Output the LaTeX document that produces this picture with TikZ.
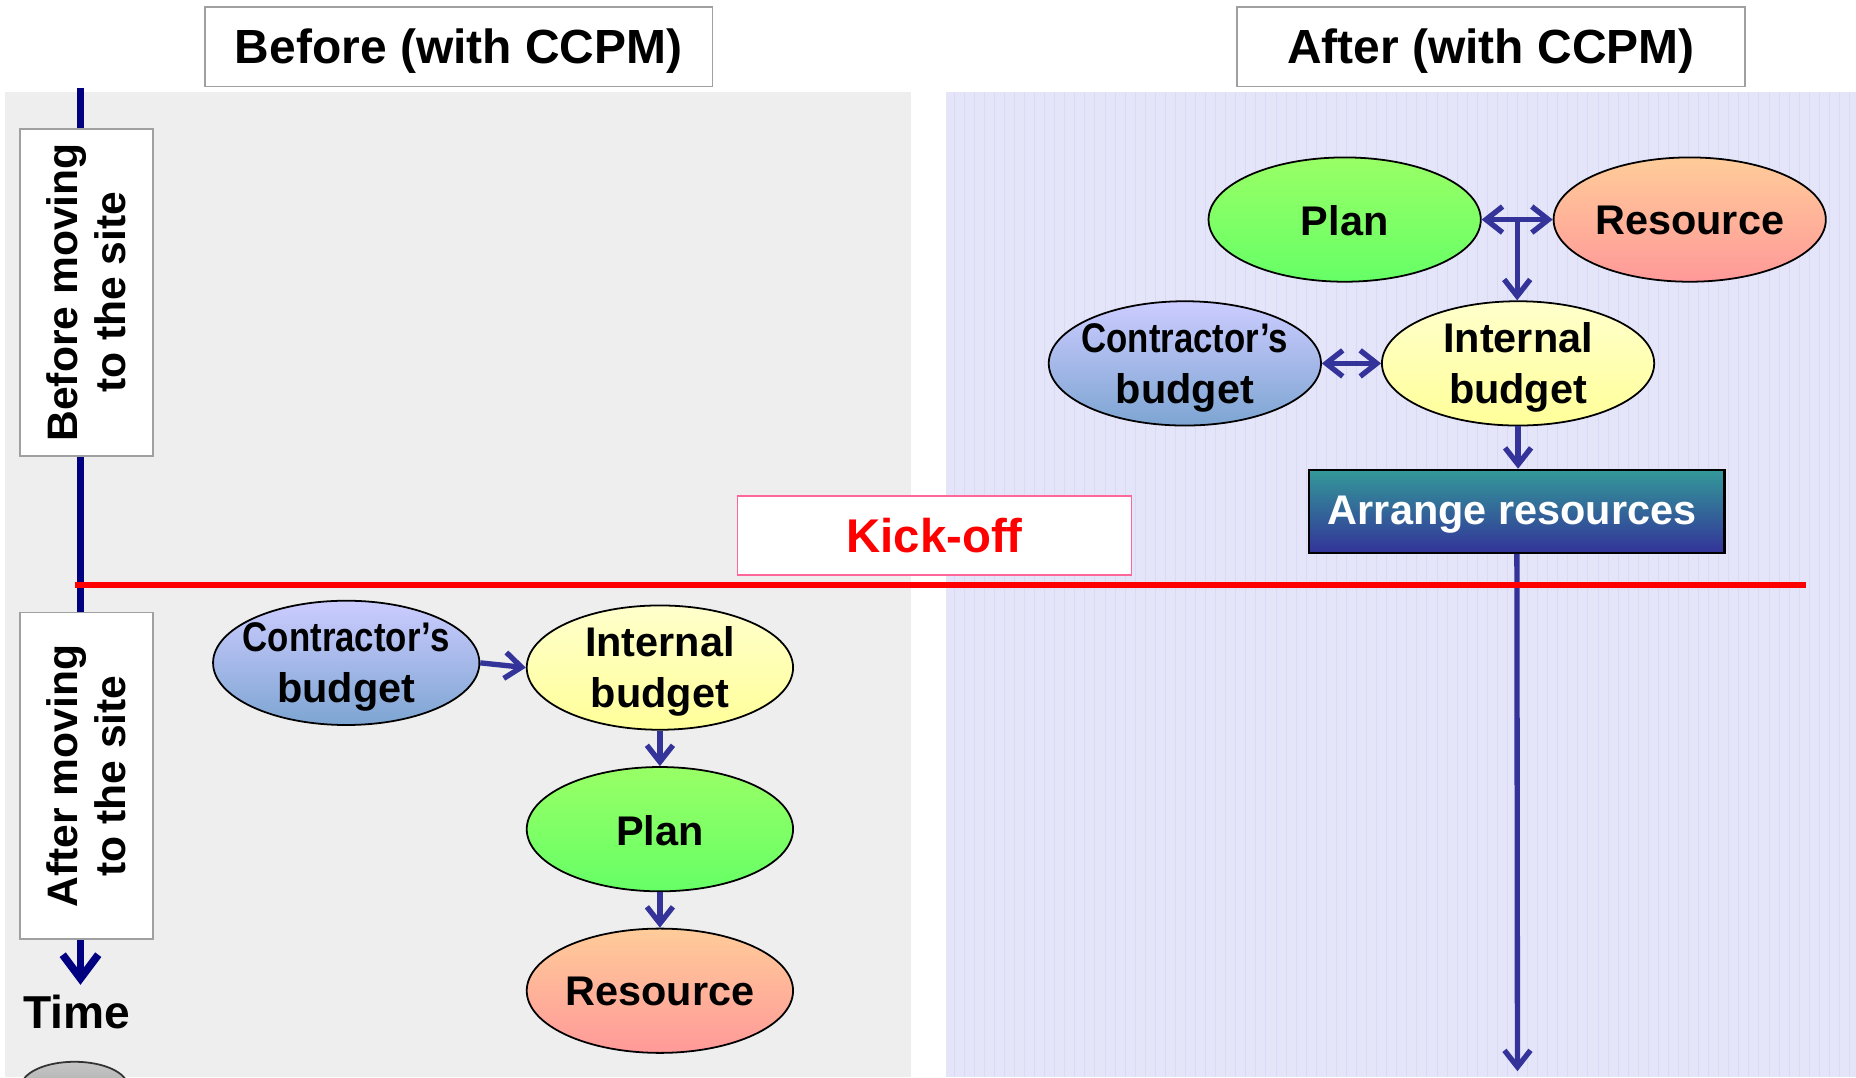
\documentclass[tikz,border=0pt]{standalone}
\usepackage{fontspec}
\usepackage{graphicx}
\setmainfont{Liberation Sans}
\usetikzlibrary{shapes.geometric,arrows.meta,calc}
\definecolor{arrowc}{HTML}{333399}
\definecolor{axisc}{HTML}{000080}
\definecolor{greypanel}{HTML}{EEEEEE}
\definecolor{lavpanel}{HTML}{E5E5FA}
\definecolor{lavline}{HTML}{DADAF6}
\definecolor{boxgray}{HTML}{A0A0A0}
\definecolor{kickpink}{HTML}{FF6699}
\definecolor{cbtop}{HTML}{CCCCFF}
\definecolor{cbbot}{HTML}{7DA5D2}
\definecolor{ibtop}{HTML}{FFFFCC}
\definecolor{ibbot}{HTML}{FFFF99}
\definecolor{pltop}{HTML}{99FF66}
\definecolor{plbot}{HTML}{66FF66}
\definecolor{rstop}{HTML}{FFCC99}
\definecolor{rsbot}{HTML}{FF9999}
\definecolor{artop}{HTML}{339999}
\definecolor{arbot}{HTML}{333399}
\tikzset{
  ell/.style={ellipse, draw=black, line width=1.5pt, minimum width=225pt, minimum height=105pt, inner sep=0pt},
  ellR/.style={ell, minimum width=230pt},
  etext/.style={align=center, inner sep=0pt, yshift=-3.5pt, font=\fontsize{35}{43}\selectfont\bfseries},
  etextone/.style={inner sep=0pt, yshift=-1pt, font=\fontsize{35}{43}\selectfont\bfseries},
  titlebox/.style={draw=boxgray, line width=1.5pt, fill=white, minimum width=429pt, minimum height=67pt, inner sep=0pt},
  ttext/.style={inner sep=0pt, yshift=-4pt, font=\fontsize{40.5}{48}\selectfont\bfseries},
  vbox/.style={draw=boxgray, line width=1.5pt, fill=white, minimum width=112pt, minimum height=276pt, inner sep=0pt},
  vtext/.style={rotate=90, align=center, inner sep=0pt, font=\fontsize{36}{41}\selectfont\bfseries},
  barb/.tip={Straight Barb[length=14pt,width=22pt,line width=4.5pt]},
  flow/.style={draw=arrowc, line width=4.5pt, -barb},
  flowtwo/.style={draw=arrowc, line width=4.5pt, barb-barb},
  axisline/.style={draw=axisc, line width=6.5pt, -{Straight Barb[length=20pt,width=30pt,line width=6.5pt]}},
}
\begin{document}
\begin{tikzpicture}[x=1pt,y=-1pt]
\useasboundingbox (0,0) rectangle (1568,910);
% panels
\fill[greypanel] (4,78) rectangle (770,910);
\fill[lavpanel] (799,78) rectangle (1568,910);
\foreach \x in {806,814.5,...,1566} \draw[lavline, line width=0.8pt] (\x,78) -- (\x,910);
% bottom-left dome
\begin{scope}
\clip (0,0) rectangle (1568,910);
\draw[black!80, line width=1.5pt, top color=gray!45, bottom color=gray!75] (63,918) ellipse [x radius=45pt, y radius=21pt];
\end{scope}
% time axis
\coordinate (axtop) at (68,74);
\coordinate (axbot) at (68,832);
\draw[axisline] (axtop) -- (axbot);
% side labels
\node[vbox] (vb1) at (73,247) {};
\node[vtext] (vb1t) at (vb1) {Before moving\\to the site};
\node[vbox] (vb2) at (73,655.5) {};
\node[vtext] (vb2t) at (vb2) {After moving\\to the site};
\node[font=\fontsize{39}{46}\selectfont\bfseries, inner sep=0pt] (time) at (65,855) {Time};
% titles
\node[titlebox] (tbefore) at (387.5,39.5) {};
\node[ttext] (tbeforet) at (tbefore) {Before (with CCPM)};
\node[titlebox] (tafter) at (1259.5,39.5) {};
\node[ttext] (taftert) at (tafter) {After (with CCPM)};
% Right diagram
\node[ellR, top color=pltop, bottom color=plbot] (pl2) at (1136,185.5) {};
\node[etextone] (pl2t) at (pl2) {Plan};
\node[ellR, top color=rstop, bottom color=rsbot] (rs2) at (1427.5,185.5) {};
\node[etextone] (rs2t) at (rs2) {Resource};
\node[ellR, top color=cbtop, bottom color=cbbot] (cb2) at (1001,307) {};
\node[etext] (cb2t) at (cb2) {\scalebox{0.84}[1]{Contractor’s}\\budget};
\node[ellR, top color=ibtop, bottom color=ibbot] (ib2) at (1282.5,307) {};
\node[etext] (ib2t) at (ib2) {Internal\\budget};
\node[draw=black, line width=2pt, top color=artop, bottom color=arbot, minimum width=351pt, minimum height=70pt, inner sep=0pt] (ar) at (1281.5,432) {};
\node[inner sep=0pt, text=white, yshift=-3pt, font=\fontsize{35}{42}\selectfont\bfseries] (art) at ([xshift=-4pt]ar.center) {Arrange resources};
\coordinate (tj) at ($(pl2.east)!0.5!(rs2.west)$);
\coordinate (arend) at (1282,905);
\draw[flowtwo] (pl2.east) -- (rs2.west);
\draw[flow] (tj) -- (tj |- ib2.north);
\draw[flowtwo] (cb2.east) -- (ib2.west);
\draw[flow] (ib2.south) -- (ib2.south |- ar.north);
\draw[flow] (ar.south) -- (arend);
% kick-off
\coordinate (kl) at (63,494);
\coordinate (kr) at (1526,494);
\draw[red, line width=5pt] (kl) -- (kr);
\node[draw=kickpink, line width=1.5pt, fill=white, minimum width=333pt, minimum height=67pt, inner sep=0pt] (kick) at (789.5,452.5) {};
\node[inner sep=0pt, text=red, font=\fontsize{40}{48}\selectfont\bfseries] (kickt) at (kick) {Kick-off};
% Left diagram
\node[ell, top color=cbtop, bottom color=cbbot] (cb1) at (292.5,560) {};
\node[etext] (cb1t) at (cb1) {\scalebox{0.84}[1]{Contractor’s}\\budget};
\node[ell, top color=ibtop, bottom color=ibbot] (ib1) at (557.5,564) {};
\node[etext] (ib1t) at (ib1) {Internal\\budget};
\node[ell, top color=pltop, bottom color=plbot] (pl1) at (557.5,700.5) {};
\node[etextone] (pl1t) at (pl1) {Plan};
\node[ell, top color=rstop, bottom color=rsbot] (rs1) at (557.5,837) {};
\node[etextone] (rs1t) at (rs1) {Resource};
\draw[flow] (cb1.east) -- (ib1.west);
\draw[flow] (ib1.south) -- (pl1.north);
\draw[flow] (pl1.south) -- (rs1.north);
\end{tikzpicture}
\end{document}
